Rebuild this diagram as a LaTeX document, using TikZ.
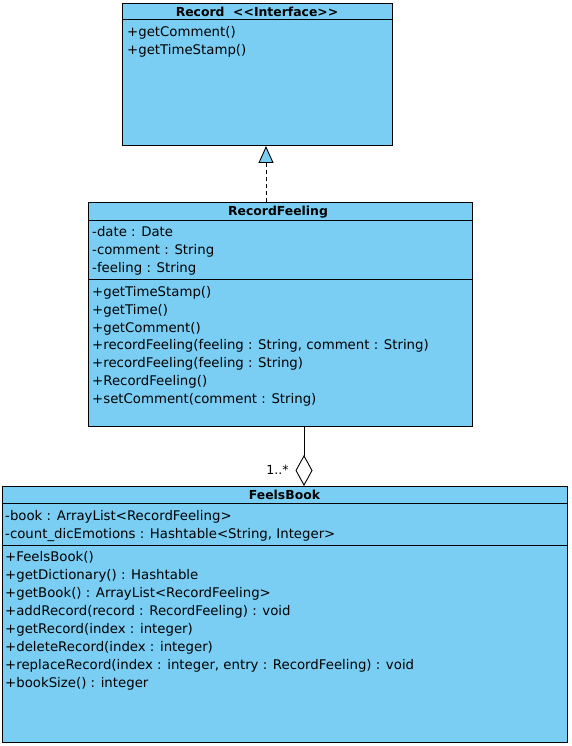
\documentclass[tikz,border=0pt]{standalone}
\usepackage{fontspec}
\setmainfont{DejaVu Sans}
\usetikzlibrary{arrows.meta}
\usetikzlibrary{positioning}
\definecolor{boxblue}{RGB}{122,206,244}

\tikzset{
    classbox/.style={draw=black, fill=boxblue, line width=1pt, inner sep=0, anchor=north west},
    classtitle/.style={font=\fontsize{12.4}{15}\selectfont\bfseries, inner sep=0, anchor=base},
    member/.style={font=\fontsize{13.3}{16}\selectfont, inner sep=0, anchor=base west},
    realize/.style={dashed, line width=0.9pt, dash pattern=on 4pt off 3pt,
        -{Triangle[open, width=15pt, length=17pt, fill=boxblue, line width=0.9pt]}},
    aggregate/.style={line width=0.9pt,
        -{Diamond[open, width=17pt, length=31pt, fill=white, line width=0.9pt]}}
}

\begin{document}
\begin{tikzpicture}[x=1pt, y=-1pt]
    \useasboundingbox (0,0) rectangle (572,746);

    % interface
    \node[classbox, minimum width=270pt, minimum height=142pt] (record) at (122,3) {};
    \draw[line width=1pt] (122,20) -- (392,20);
    \node[classtitle] (recordtitle) at (257,16.5) {Record \ {<}{<}Interface{>}{>}};
    \node[member] (recordm1) at (127,36.5) {+getComment()};
    \node[member] (recordm2) at (127,54.5) {+getTimeStamp()};

    % RecordFeeling
    \node[classbox, minimum width=384pt, minimum height=224pt] (feeling) at (88,202) {};
    \draw[line width=1pt] (88,220) -- (472,220);
    \draw[line width=1pt] (88,279) -- (472,279);
    \node[classtitle] (feelingtitle) at (278,215.5) {RecordFeeling};
    \node[member] (feelinga1) at (92,236.5) {-date : Date};
    \node[member] (feelinga2) at (92,254.5) {-comment : String};
    \node[member] (feelinga3) at (92,272.5) {-feeling : String};
    \node[member] (feelingm1) at (92,296.5) {+getTimeStamp()};
    \node[member] (feelingm2) at (92,314.25) {+getTime()};
    \node[member] (feelingm3) at (92,332) {+getComment()};
    \node[member] (feelingm4) at (92,349.75) {+recordFeeling(feeling : String, comment : String)};
    \node[member] (feelingm5) at (92,367.5) {+recordFeeling(feeling : String)};
    \node[member] (feelingm6) at (92,385.25) {+RecordFeeling()};
    \node[member] (feelingm7) at (92,403) {+setComment(comment : String)};

    % FeelsBook
    \node[classbox, minimum width=565pt, minimum height=256pt] (book) at (2,486) {};
    \draw[line width=1pt] (2,503) -- (567,503);
    \draw[line width=1pt] (2,545) -- (567,545);
    \node[classtitle] (booktitle) at (284.5,499.5) {FeelsBook};
    \node[member] (booka1) at (5,520.5) {-book : ArrayList{<}RecordFeeling{>}};
    \node[member] (booka2) at (5,538.5) {-count\_dicEmotions : Hashtable{<}String, Integer{>}};
    \node[member] (bookm1) at (5,561.5) {+FeelsBook()};
    \node[member] (bookm2) at (5,579.5) {+getDictionary() : Hashtable};
    \node[member] (bookm3) at (5,597.5) {+getBook() : ArrayList{<}RecordFeeling{>}};
    \node[member] (bookm4) at (5,615.5) {+addRecord(record : RecordFeeling) : void};
    \node[member] (bookm5) at (5,633.5) {+getRecord(index : integer)};
    \node[member] (bookm6) at (5,651.5) {+deleteRecord(index : integer)};
    \node[member] (bookm7) at (5,669.5) {+replaceRecord(index : integer, entry : RecordFeeling) : void};
    \node[member] (bookm8) at (5,687.5) {+bookSize() : integer};

    % connectors
    \coordinate (implx) at (266,0);
    \coordinate (aggx) at (304,0);
    \draw[realize] (implx |- feeling.north) -- (implx |- record.south);
    \draw[aggregate] (aggx |- feeling.south) -- node[pos=0.73, left=15pt, inner sep=0, font=\fontsize{12.5}{15}\selectfont] (mult) {1..*} (aggx |- book.north);
\end{tikzpicture}
\end{document}
